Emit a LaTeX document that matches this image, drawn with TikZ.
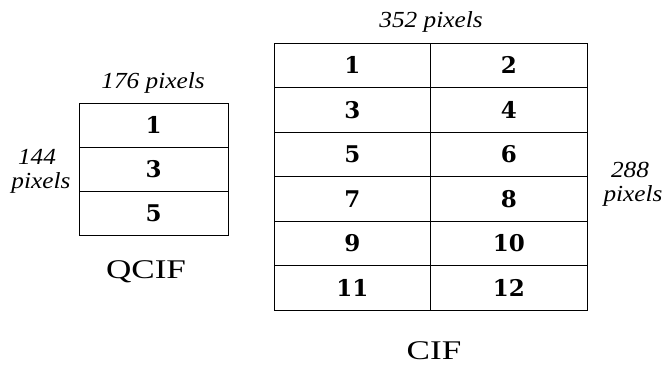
\documentclass[tikz,border=0pt]{standalone}
\usepackage{fontspec}
\setmainfont{Liberation Serif}
\newfontfamily\labfont{Liberation Serif}
\newfontfamily\numfont{DejaVu Serif}
\begin{document}
\begin{tikzpicture}[x=1pt,y=-1pt,
  cell/.style={draw=black,line width=0.9pt,inner sep=0pt,anchor=center,
    font=\numfont\bfseries\fontsize{23}{23}\selectfont},
  qcell/.style={cell,minimum width=149pt,minimum height=44pt},
  ccell/.style={cell,minimum width=156.5pt,minimum height=44.5pt},
  dimlab/.style={font=\labfont\itshape\fontsize{23}{24}\selectfont,inner sep=0pt,align=center},
  namelab/.style={font=\labfont\fontsize{27}{28}\selectfont,inner sep=0pt}]
\useasboundingbox (0,0) rectangle (666,366);
% QCIF
\node[qcell] (q1) at (153.5,125) {1};
\node[qcell] (q3) at (153.5,169) {3};
\node[qcell] (q5) at (153.5,213) {5};
% CIF
\foreach \i/\a/\b in {0/1/2,1/3/4,2/5/6,3/7/8,4/9/10,5/11/12}{
  \node[ccell] (c\a) at (352.25,{65.25+44.5*\i}) {\a};
  \node[ccell] (c\b) at (508.75,{65.25+44.5*\i}) {\b};
}
% labels
\node[dimlab] (l176) at (153,83) {\scalebox{1.1}[1]{176 pixels}};
\node[dimlab] (l144a) at (37,157) {\scalebox{1.1}[1]{144}};
\node[dimlab] (l144b) at (41,183) {\scalebox{1.1}[1]{pixels}};
\node[dimlab] (l352) at (431,22) {\scalebox{1.1}[1]{352 pixels}};
\node[dimlab] (l288a) at (630,170) {\scalebox{1.1}[1]{288}};
\node[dimlab] (l288b) at (633,196) {\scalebox{1.1}[1]{pixels}};
\node[namelab] (nq) at (146,272) {\scalebox{1.3}[1]{QCIF}};
\node[namelab] (nc) at (434,351) {\scalebox{1.3}[1]{CIF}};
\end{tikzpicture}
\end{document}
